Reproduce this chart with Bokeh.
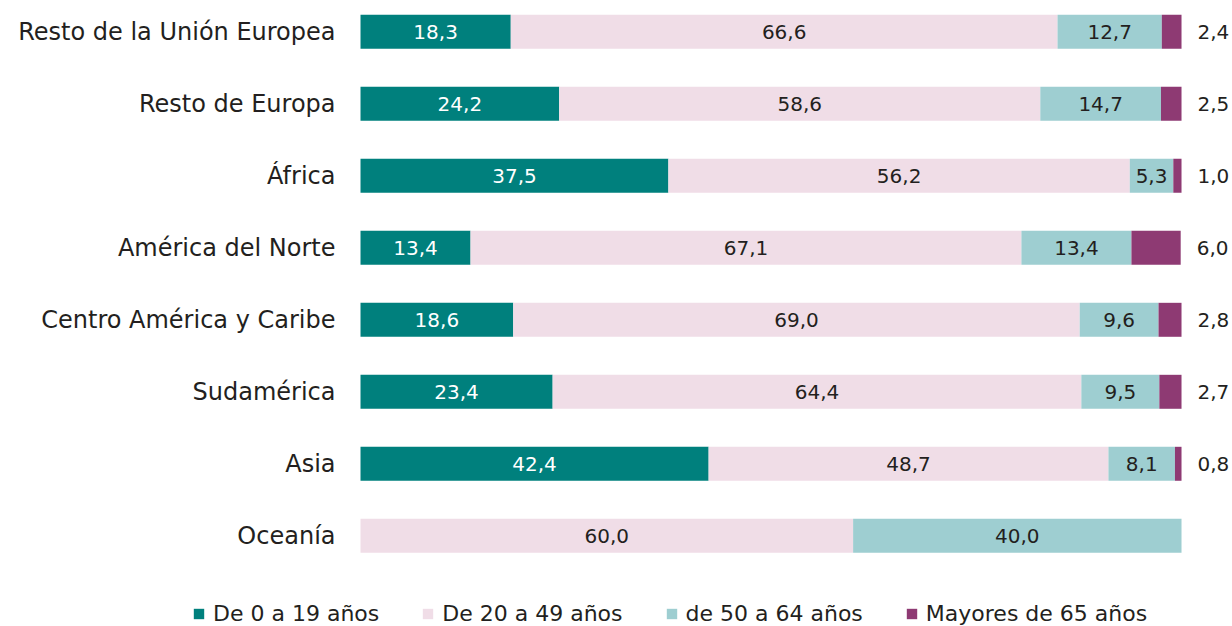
from bokeh.plotting import figure
from bokeh.models import ColumnDataSource, Range1d, Legend, LegendItem
from bokeh.core.properties import value
from bokeh.embed import file_html
from bokeh.resources import INLINE

categories = ["Resto de la Unión Europea", "Resto de Europa", "África", "América del Norte",
              "Centro América y Caribe", "Sudamérica", "Asia", "Oceanía"]
series_names = ["De 0 a 19 años", "De 20 a 49 años", "de 50 a 64 años", "Mayores de 65 años"]
age_0_19 = [18.3, 24.2, 37.5, 13.4, 18.6, 23.4, 42.4, 0.0]
age_20_49 = [66.6, 58.6, 56.2, 67.1, 69.0, 64.4, 48.7, 60.0]
age_50_64 = [12.7, 14.7, 5.3, 13.4, 9.6, 9.5, 8.1, 40.0]
age_65_plus = [2.4, 2.5, 1.0, 6.0, 2.8, 2.7, 0.8, 0.0]
colors = ["#00807D", "#F0DDE7", "#9ECED1", "#8E3A73"]

FONT = "DejaVu Sans"
DARK = "#231F20"

keys = ["s0", "s1", "s2", "s3"]
ys = list(range(len(categories)))
source = ColumnDataSource(dict(y=ys, s0=age_0_19, s1=age_20_49, s2=age_50_64, s3=age_65_plus))

p = figure(width=1232, height=626, output_backend="svg", toolbar_location=None,
           x_range=Range1d(-43.85, 106.21), y_range=Range1d(8.26, -0.435),
           min_border_left=0, min_border_right=0, min_border_top=0, min_border_bottom=0)
p.outline_line_color = None
p.xgrid.visible = False
p.ygrid.visible = False
p.xaxis.visible = False
p.yaxis.visible = False
p.background_fill_color = None
p.border_fill_color = None

renderers = p.hbar_stack(keys, y="y", height=0.472, color=colors, line_color=None, source=source)

# category labels
p.text(x=[0] * len(categories), y=ys, text=categories, text_color=DARK, text_align="right",
       text_baseline="middle", x_offset=-25, text_font=value(FONT), text_font_size="24px")

# value labels
series = [age_0_19, age_20_49, age_50_64, age_65_plus]
lx, ly, lt, lc = [], [], [], []
ox, oy, ot = [], [], []
for i in range(len(categories)):
    left = 0.0
    for k, s in enumerate(series):
        v = s[i]
        if v > 0:
            txt = f"{v:.1f}".replace(".", ",")
            if k == 3:
                ox.append(left + v)
                oy.append(i)
                ot.append(txt)
            else:
                lx.append(left + v / 2)
                ly.append(i)
                lt.append(txt)
                lc.append("#FFFFFF" if k == 0 else DARK)
        left += v

p.text(x=lx, y=ly, text=lt, text_color=lc, text_align="center", text_baseline="middle",
       text_font=value(FONT), text_font_size="20px")
p.text(x=ox, y=oy, text=ot, text_color=DARK, text_align="left", text_baseline="middle",
       x_offset=16, text_font=value(FONT), text_font_size="20px")

legend = Legend(items=[LegendItem(label=n, renderers=[r]) for n, r in zip(series_names, renderers)],
                orientation="horizontal", location=(192, 0),
                label_text_font=FONT, label_text_font_size="22px", label_text_color=DARK,
                glyph_width=13, glyph_height=13, label_standoff=8, spacing=42,
                padding=0, margin=0, border_line_color=None, background_fill_alpha=0)
p.add_layout(legend, "center")

open("out.html", "w").write(file_html(p, INLINE))
